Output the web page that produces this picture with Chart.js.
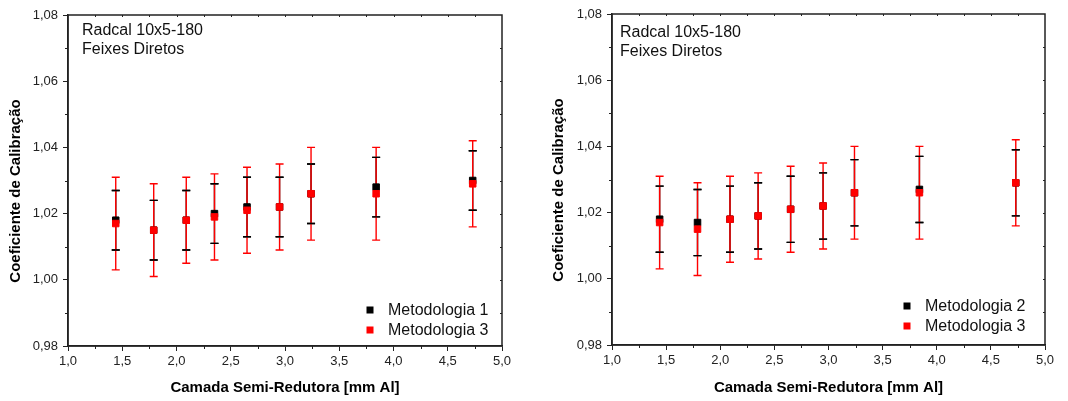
<!DOCTYPE html>
<html>
<head>
<meta charset="utf-8">
<script src="https://cdn.jsdelivr.net/npm/chart.js@4.4.1/dist/chart.umd.min.js"></script>
<style>
  body { margin: 0; background: #fff; }
  .panel { position: absolute; top: 0; }
</style>
</head>
<body>
<div class="panel" style="left:0"><canvas id="chartLeft" width="534" height="401"></canvas></div>
<div class="panel" style="left:534px"><canvas id="chartRight" width="534" height="401"></canvas></div>
<script>
// camada semi-redutora (mm Al)
var csr = [1.44, 1.79, 2.09, 2.35, 2.65, 2.95, 3.24, 3.84, 4.73];

var met1 = [1.018, 1.015, 1.018, 1.020, 1.022, 1.022, 1.026, 1.028, 1.030];
var met1Err = [0.009, 0.009, 0.009, 0.009, 0.009, 0.009, 0.009, 0.009, 0.009];

var met2 = [1.018, 1.017, 1.018, 1.019, 1.021, 1.022, 1.026, 1.027, 1.029];
var met2Err = [0.010, 0.010, 0.010, 0.010, 0.010, 0.010, 0.010, 0.010, 0.010];

var met3 = [1.017, 1.015, 1.018, 1.019, 1.021, 1.022, 1.026, 1.026, 1.029];
var met3Err = [0.014, 0.014, 0.013, 0.013, 0.013, 0.013, 0.014, 0.014, 0.013];

var yTicks = [0.98, 1.00, 1.02, 1.04, 1.06, 1.08];
var xTicks = [1.0, 1.5, 2.0, 2.5, 3.0, 3.5, 4.0, 4.5, 5.0];

var annotation = ['Radcal 10x5-180', 'Feixes Diretos'];
var xTitle = 'Camada Semi-Redutora [mm Al]';
var yTitle = 'Coeficiente de Calibração';

var axisColor = '#222';
var fontFam = '"Liberation Sans", Arial, sans-serif';

function toPoints(xs, ys) {
	var pts = [];
	for (var i in xs) {
		pts.push({ x: xs[i], y: ys[i] });
	}
	return pts;
}

function drawBars(chart, ds, withLine) {
	var ctx = chart.ctx;
	var xs = chart.scales.x, ys = chart.scales.y;
	ctx.save();
	ctx.strokeStyle = ds.borderColor;
	ctx.lineWidth = 1.4;
	ds.data.forEach(function(p, i) {
		var e = ds.errors[i];
		var px = xs.getPixelForValue(p.x);
		var top = ys.getPixelForValue(p.y + e);
		var bot = ys.getPixelForValue(p.y - e);
		ctx.beginPath();
		if (withLine) {
			ctx.moveTo(px, top);
			ctx.lineTo(px, bot);
		}
		ctx.moveTo(px - 4, top);
		ctx.lineTo(px + 4, top);
		ctx.moveTo(px - 4, bot);
		ctx.lineTo(px + 4, bot);
		ctx.stroke();
	});
	ctx.restore();
}

var errorBarsPlugin = {
	id: 'errorBars',
	beforeDatasetsDraw: function(chart) {
		var black = chart.data.datasets[0];
		var red = chart.data.datasets[1];
		drawBars(chart, black, true);
		drawBars(chart, red, true);
		drawBars(chart, black, false);
	}
};

var decorPlugin = {
	id: 'decor',
	afterDraw: function(chart) {
		var ctx = chart.ctx;
		var a = chart.chartArea;
		var xs = chart.scales.x, ys = chart.scales.y;
		var o = chart.options.plugins.decor;
		var v, p;
		ctx.save();

		// frame
		ctx.strokeStyle = axisColor;
		ctx.lineWidth = 1.5;
		ctx.strokeRect(a.left, a.top, a.right - a.left, a.bottom - a.top);

		// minor ticks + mirrored ticks
		ctx.lineWidth = 1;
		ctx.beginPath();
		for (v = 1.25; v < 5; v += 0.5) {
			p = Math.round(xs.getPixelForValue(v)) + 0.5;
			ctx.moveTo(p, a.bottom);
			ctx.lineTo(p, a.bottom + 3);
		}
		for (v = 0.99; v < 1.08; v += 0.02) {
			p = Math.round(ys.getPixelForValue(v)) + 0.5;
			ctx.moveTo(a.left, p);
			ctx.lineTo(a.left - 3, p);
		}
		for (v = 1.25; v < 5; v += 0.25) {
			p = Math.round(xs.getPixelForValue(v)) + 0.5;
			ctx.moveTo(p, a.top);
			ctx.lineTo(p, a.top + 2);
		}
		for (v = 0.99; v < 1.08; v += 0.01) {
			p = Math.round(ys.getPixelForValue(v)) + 0.5;
			ctx.moveTo(a.right, p);
			ctx.lineTo(a.right - 2, p);
		}
		ctx.stroke();

		// y title
		ctx.fillStyle = '#000';
		ctx.font = 'bold 15px ' + fontFam;
		ctx.textAlign = 'center';
		ctx.textBaseline = 'middle';
		ctx.save();
		ctx.translate(o.yTitleX, o.yTitleY);
		ctx.rotate(-Math.PI / 2);
		ctx.fillText(yTitle, 0, 0);
		ctx.restore();

		// annotation
		ctx.font = '16px ' + fontFam;
		ctx.textAlign = 'left';
		ctx.fillStyle = '#111';
		ctx.fillText(annotation[0], o.noteX, o.noteY);
		ctx.fillText(annotation[1], o.noteX, o.noteY + 19);

		// legend
		ctx.font = '16px ' + fontFam;
		chart.data.datasets.forEach(function(ds, i) {
			var ly = o.legendY + i * 20;
			ctx.fillStyle = ds.backgroundColor;
			ctx.fillRect(o.legendX - 3.5, ly - 3.5, 7, 7);
			ctx.fillStyle = '#111';
			ctx.fillText(ds.label, o.legendX + 18, ly + 1);
		});
		ctx.restore();
	}
};

function makeChart(id, blackLabel, blackY, blackErr, lay) {
	var ctx = document.getElementById(id);
	return new Chart(ctx, {
		type: 'scatter',
		data: {
			datasets: [
				{
					label: blackLabel,
					data: toPoints(csr, blackY),
					errors: blackErr,
					backgroundColor: '#000000',
					borderColor: '#000000',
					pointStyle: 'rect',
					pointRadius: 4.6,
					pointBorderWidth: 1,
					order: 1
				},
				{
					label: 'Metodologia 3',
					data: toPoints(csr, met3),
					errors: met3Err,
					backgroundColor: '#ff0000',
					borderColor: '#ff0000',
					pointStyle: 'rect',
					pointRadius: 4.6,
					pointBorderWidth: 1,
					order: 0
				}
			]
		},
		options: {
			responsive: false,
			animation: false,
			layout: { padding: { top: lay.top, right: lay.right, left: 0, bottom: 0 } },
			plugins: {
				legend: { display: false },
				tooltip: { enabled: false },
				decor: lay.decor
			},
			scales: {
				x: {
					type: 'linear',
					min: 1,
					max: 5,
					afterBuildTicks: function(s) { s.ticks = xTicks.map(function(v) { return { value: v }; }); },
					afterFit: function(s) { s.height = lay.xHeight; },
					ticks: {
						color: '#222',
						padding: 3,
						maxRotation: 0,
						font: { size: 13, family: fontFam },
						callback: function(v) { return v.toFixed(1).replace('.', ','); }
					},
					grid: { drawOnChartArea: false, drawTicks: true, tickLength: 5, color: axisColor },
					border: { color: axisColor, width: 1.5 },
					title: {
						display: true,
						text: xTitle,
						color: '#000',
						padding: { top: 0, bottom: 4 },
						font: { size: 15, weight: 'bold', family: fontFam }
					}
				},
				y: {
					type: 'linear',
					min: 0.98,
					max: 1.08,
					afterBuildTicks: function(s) { s.ticks = yTicks.map(function(v) { return { value: v }; }); },
					afterFit: function(s) { s.width = lay.yWidth; },
					ticks: {
						color: '#222',
						padding: 5,
						font: { size: 13, family: fontFam },
						callback: function(v) { return v.toFixed(2).replace('.', ','); }
					},
					grid: { drawOnChartArea: false, drawTicks: true, tickLength: 5, color: axisColor },
					border: { color: axisColor, width: 1.5 }
				}
			}
		},
		plugins: [errorBarsPlugin, decorPlugin]
	});
}

makeChart('chartLeft', 'Metodologia 1', met1, met1Err, {
	top: 15, right: 32, yWidth: 68, xHeight: 55,
	decor: { yTitleX: 16, yTitleY: 191, noteX: 82, noteY: 31, legendX: 370, legendY: 310 }
});

makeChart('chartRight', 'Metodologia 2', met2, met2Err, {
	top: 14, right: 23, yWidth: 78, xHeight: 56,
	decor: { yTitleX: 25, yTitleY: 190, noteX: 86, noteY: 33, legendX: 373, legendY: 306 }
});
</script>
</body>
</html>
